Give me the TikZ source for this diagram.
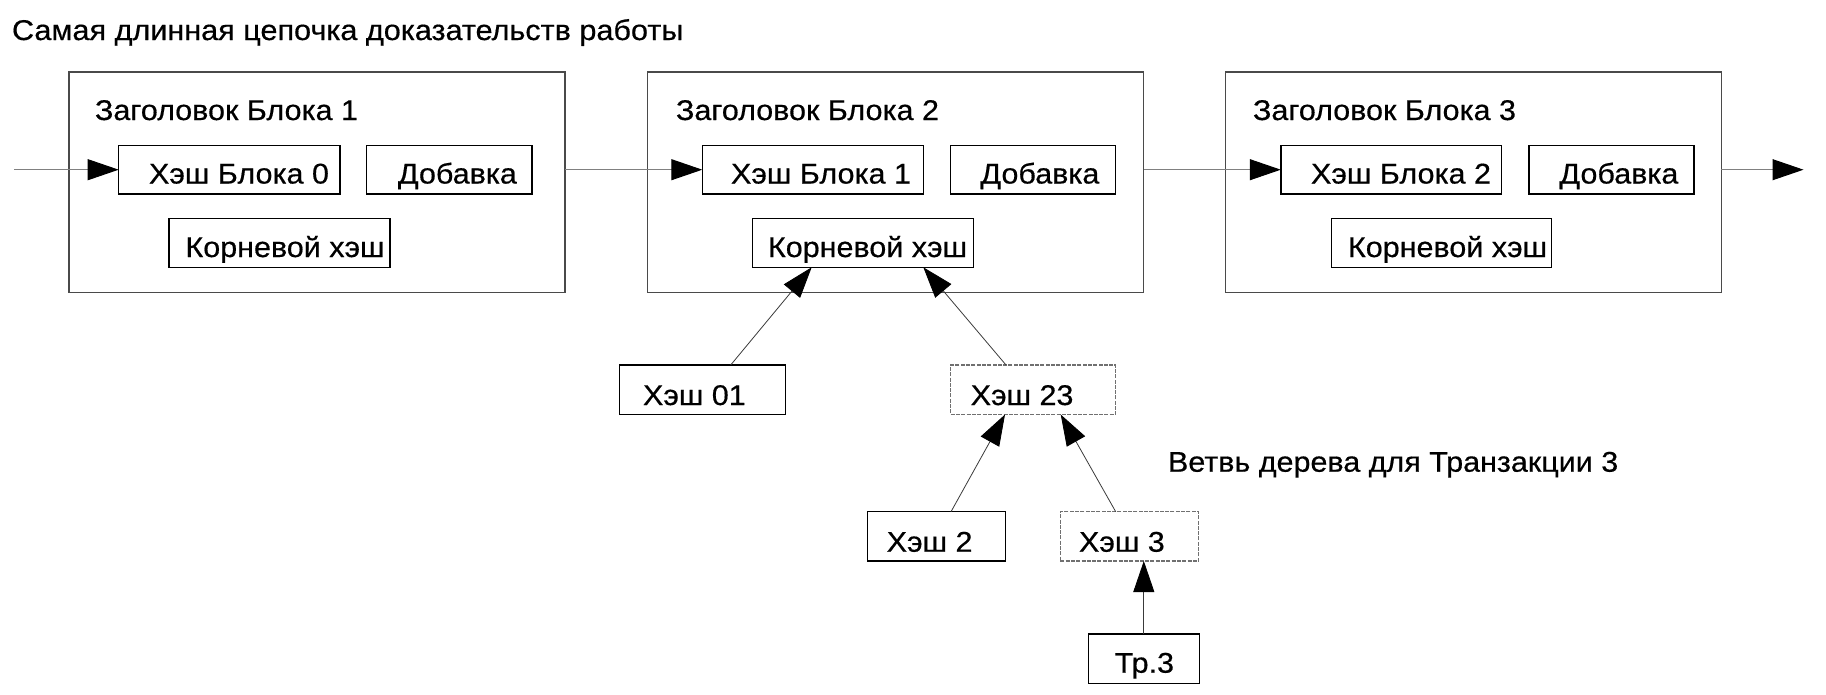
\documentclass[tikz,border=0pt]{standalone}
\usepackage{fontspec}
\setmainfont{Liberation Sans}[FakeStretch=1.07, FakeBold=0.5]
\usetikzlibrary{arrows.meta}
\definecolor{blockgray}{HTML}{4A4A4A}
\definecolor{chaingray}{HTML}{808080}
\definecolor{treegray}{HTML}{3A3A3A}
\definecolor{dashgray}{HTML}{707070}
\tikzset{
  blockbox/.style={draw=blockgray, line width=1.3pt, inner sep=0pt, outer sep=0pt, minimum width=496pt, minimum height=220.5pt},
  inbox/.style={draw=black, line width=1.4pt, inner sep=0pt, outer sep=0pt, minimum height=48.5pt},
  dbox/.style={draw=dashgray, line width=1.2pt, dash pattern=on 4pt off 1.3pt, inner sep=0pt, outer sep=0pt, minimum height=49pt},
  txt/.style={anchor=base west, inner sep=0pt, outer sep=0pt, font=\fontsize{28.5}{33}\selectfont},
  ttl/.style={anchor=base west, inner sep=0pt, outer sep=0pt, font=\fontsize{28.6}{33}\selectfont},
  tip/.style={-{Triangle[length=31pt, width=21pt, color=black]}},
  chainarrow/.style={tip, draw=chaingray, line width=1pt},
  treearrow/.style={tip, draw=treegray, line width=0.8pt},
}
\begin{document}
\begin{tikzpicture}[x=1pt, y=-1pt]
\useasboundingbox (0,0) rectangle (1826,694);
% title
\node[ttl] (title) at (12,40) {Самая длинная цепочка доказательств работы};
% blocks
\node[blockbox] (b1) at (317,182.25) {};
\node[blockbox] (b2) at (895.75,182.25) {};
\node[blockbox] (b3) at (1473.25,182.25) {};
\node[txt] (hd1) at (95,120) {Заголовок Блока 1};
\node[txt] (hd2) at (676,120) {Заголовок Блока 2};
\node[txt] (hd3) at (1253,120) {Заголовок Блока 3};
% inner boxes
\node[inbox, minimum width=221.3pt] (hb0) at (229.35,169.7) {};
\node[inbox, minimum width=165.3pt] (ad1) at (449.35,169.7) {};
\node[inbox, minimum width=221.2pt] (rt1) at (279.4,243) {};
\node[inbox, minimum width=221pt] (hb1) at (812.8,169.7) {};
\node[inbox, minimum width=164.8pt] (ad2) at (1033.1,169.7) {};
\node[inbox, minimum width=221pt] (rt2) at (862.8,243) {};
\node[inbox, minimum width=220.6pt] (hb2) at (1391.1,169.7) {};
\node[inbox, minimum width=165pt] (ad3) at (1611.5,169.7) {};
\node[inbox, minimum width=220pt] (rt3) at (1441.5,243) {};
\node[txt] (thb0) at (149,183.5) {Хэш Блока 0};
\node[txt] (tad1) at (398,183.5) {Добавка};
\node[txt] (trt1) at (185.5,257) {Корневой хэш};
\node[txt] (thb1) at (731,183.5) {Хэш Блока 1};
\node[txt] (tad2) at (980.5,183.5) {Добавка};
\node[txt] (trt2) at (768,257) {Корневой хэш};
\node[txt] (thb2) at (1311,183.5) {Хэш Блока 2};
\node[txt] (tad3) at (1559.5,183.5) {Добавка};
\node[txt] (trt3) at (1348,257) {Корневой хэш};
% tree boxes
\node[inbox, minimum width=165.8pt, minimum height=49.5pt] (h01) at (702.4,389.75) {};
\node[dbox, minimum width=165.1pt, minimum height=49.5pt] (h23) at (1033.25,389.75) {};
\node[inbox, minimum width=138.2pt, minimum height=49.3pt] (h2) at (936.4,536.35) {};
\node[dbox, minimum width=138.4pt, minimum height=49.3pt] (h3) at (1129.5,536.35) {};
\node[inbox, minimum width=111pt, minimum height=49.3pt] (tr3) at (1143.8,658.65) {};
\node[txt] (th01) at (643,405) {Хэш 01};
\node[txt] (th23) at (970.7,405) {Хэш 23};
\node[txt] (th2) at (886.7,551.7) {Хэш 2};
\node[txt] (th3) at (1079,551.7) {Хэш 3};
\node[txt] (ttr3) at (1114.7,672.7) {Тр.3};
\node[txt] (branch) at (1168,471.7) {Ветвь дерева для Транзакции 3};
% chain connectors
\coordinate (cin) at (14,169.7);
\coordinate (cout) at (1803.5,169.7);
\draw[chainarrow] (cin) -- (hb0.west);
\draw[chainarrow] (b1.east |- hb1.west) -- (hb1.west);
\draw[chainarrow] (b2.east |- hb2.west) -- (hb2.west);
\draw[chainarrow] (b3.east |- hb2.west) -- (cout);
% tree connectors
\draw[treearrow] ([xshift=28.3pt]h01.north) -- ([xshift=-51.1pt]rt2.south);
\draw[treearrow] ([xshift=-27.25pt]h23.north) -- ([xshift=60.5pt]rt2.south);
\draw[treearrow] ([xshift=14.6pt]h2.north) -- ([xshift=-28.25pt]h23.south);
\draw[treearrow] ([xshift=-13.8pt]h3.north) -- ([xshift=27.45pt]h23.south);
\draw[treearrow] (tr3.north) -- (tr3.north |- h3.south);
\end{tikzpicture}
\end{document}
